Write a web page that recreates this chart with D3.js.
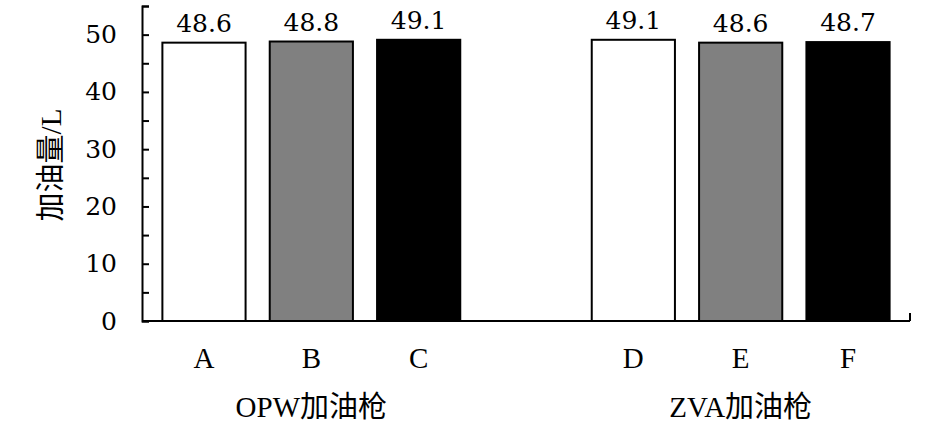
<!DOCTYPE html>
<html>
<head>
<meta charset="utf-8">
<script src="https://cdn.jsdelivr.net/npm/d3@7"></script>
<style>
  body { margin: 0; background: #fff; }
</style>
</head>
<body>
<svg></svg>
<script>
// data
let categories = ['A', 'B', 'C', 'D', 'E', 'F']
let values = [48.6, 48.8, 49.1, 49.1, 48.6, 48.7]
let fills = ['#ffffff', '#808080', '#000000', '#ffffff', '#808080', '#000000']
let groups = ['OPW加油枪', 'ZVA加油枪']
let groupMembers = [['A', 'B', 'C'], ['D', 'E', 'F']]
let yTicks = [0, 5, 10, 15, 20, 25, 30, 35, 40, 45, 50, 55]
let yTitle = '加油量/L'

let width = 945
let height = 429
let serif = '"Liberation Serif", "Noto Sans CJK SC", serif'
// digits come out sans in Liberation Serif here, so numbers use DejaVu Serif
let numFont = '"DejaVu Serif", serif'

// band slots, one empty slot between the two groups
let slots = ['A', 'B', 'C', 'gap', 'D', 'E', 'F']

let svg = d3.select('svg')
    .attr('width', width)
    .attr('height', height)

let xScale = d3.scaleBand()
    .domain(slots)
    .range([142, 910])
    .paddingInner(0.225)
    .paddingOuter(0.19)

let yScale = d3.scaleLinear()
    .domain([0, 55])
    .range([321, 6])

// bars
svg.selectAll('rect.bar')
   .data(categories)
   .enter()
   .append('rect')
   .attr('class', 'bar')
   .attr('x', d => xScale(d))
   .attr('width', xScale.bandwidth())
   .attr('y', (d, i) => yScale(values[i]))
   .attr('height', (d, i) => yScale(0) - yScale(values[i]))
   .attr('fill', (d, i) => fills[i])
   .attr('stroke', '#000')
   .attr('stroke-width', 2)

// value labels
svg.selectAll('text.val')
   .data(categories)
   .enter()
   .append('text')
   .attr('class', 'val')
   .attr('x', d => xScale(d) + xScale.bandwidth() / 2)
   .attr('y', (d, i) => yScale(values[i]) - 11)
   .attr('text-anchor', 'middle')
   .style('font-family', numFont)
   .style('font-size', '25px')
   .text((d, i) => values[i].toFixed(1))

// y axis, ticks pointing inward
let yAxis = d3.axisLeft(yScale)
    .tickValues(yTicks)
    .tickSizeInner(-7)
    .tickSizeOuter(-7)
    .tickPadding(25)
    .tickFormat(d => d % 10 === 0 && d <= 50 ? d : '')

let gy = svg.append('g')
   .attr('id', 'y-axis')
   .attr('transform', 'translate(142, 0)')
   .call(yAxis)

gy.selectAll('path, line').attr('stroke', '#000').attr('stroke-width', 2)
gy.selectAll('text')
  .style('font-family', numFont)
  .style('font-size', '25px')
  .attr('fill', '#000')

// x axis line with end tick
svg.append('line')
   .attr('x1', xScale.range()[0])
   .attr('x2', xScale.range()[1])
   .attr('y1', yScale(0))
   .attr('y2', yScale(0))
   .attr('stroke', '#000')
   .attr('stroke-width', 2)

svg.append('line')
   .attr('x1', xScale.range()[1])
   .attr('x2', xScale.range()[1])
   .attr('y1', yScale(0))
   .attr('y2', yScale(0) - 8)
   .attr('stroke', '#000')
   .attr('stroke-width', 2)

// category labels
svg.selectAll('text.cat')
   .data(categories)
   .enter()
   .append('text')
   .attr('class', 'cat')
   .attr('x', d => xScale(d) + xScale.bandwidth() / 2)
   .attr('y', 368)
   .attr('text-anchor', 'middle')
   .style('font-family', serif)
   .style('font-size', '29px')
   .text(d => d)

// group labels centred under the middle bar of each group
svg.selectAll('text.grp')
   .data(groups)
   .enter()
   .append('text')
   .attr('class', 'grp')
   .attr('x', (d, i) => {
       let m = groupMembers[i][1]
       return xScale(m) + xScale.bandwidth() / 2
   })
   .attr('y', 417)
   .attr('text-anchor', 'middle')
   .style('font-family', serif)
   .style('font-size', '29px')
   .text(d => d)

// y title
svg.append('text')
   .attr('transform', 'translate(61, 165) rotate(-90)')
   .attr('text-anchor', 'middle')
   .style('font-family', serif)
   .style('font-size', '29px')
   .text(yTitle)
</script>
</body>
</html>
